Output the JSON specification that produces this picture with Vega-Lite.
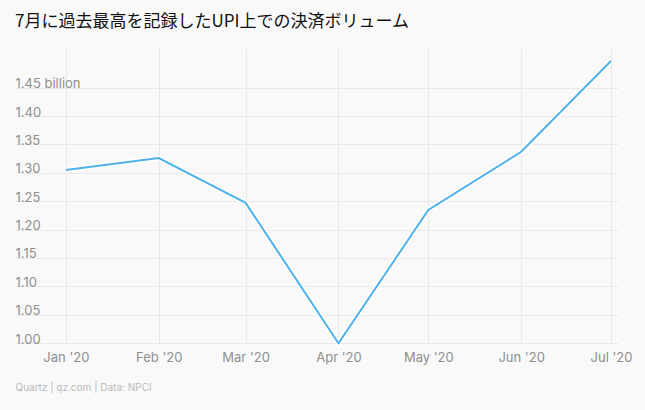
{
  "$schema": "https://vega.github.io/schema/vega-lite/v6.json",
  "autosize": "none",
  "width": 603,
  "height": 295,
  "padding": {"left": 15, "top": 48, "right": 27, "bottom": 67},
  "background": "#f9f9f9",
  "title": {
    "text": "7月に過去最高を記録したUPI上での決済ボリューム",
    "anchor": "start",
    "frame": "group",
    "font": "Noto Sans CJK JP",
    "fontSize": 17,
    "fontWeight": "normal",
    "color": "#111111",
    "offset": 17
  },
  "config": {
    "view": {"stroke": null},
    "axis": {"labelFont": "Inter", "titleFont": "Inter"}
  },
  "data": {
    "values": [
      {"month": "2020-01-01T00:00:00", "volume": 1.305},
      {"month": "2020-02-01T00:00:00", "volume": 1.326},
      {"month": "2020-03-01T00:00:00", "volume": 1.247},
      {"month": "2020-04-01T00:00:00", "volume": 0.9996},
      {"month": "2020-05-01T00:00:00", "volume": 1.2345},
      {"month": "2020-06-01T00:00:00", "volume": 1.337},
      {"month": "2020-07-01T00:00:00", "volume": 1.497}
    ]
  },
  "encoding": {
    "x": {
      "field": "month",
      "type": "temporal",
      "scale": {
        "domain": [
          {"year": 2019, "month": 12, "date": 15},
          {"year": 2020, "month": 7, "date": 3, "hours": 8}
        ]
      },
      "axis": {
        "format": "%b '%y",
        "tickCount": {"interval": "month", "step": 1},
        "ticks": false,
        "domain": false,
        "grid": true,
        "gridColor": "#e9e9e9",
        "labelColor": "#8f8f8f",
        "labelFontSize": 13,
        "labelPadding": 8,
        "labelFlush": false,
        "title": "Quartz | qz.com | Data: NPCI",
        "titleFontSize": 10,
        "titleFontWeight": "normal",
        "titleColor": "#b9b9b9",
        "titleAnchor": "start",
        "titleAlign": "left",
        "titleX": 0,
        "titleY": 44,
        "titleBaseline": "middle"
      }
    },
    "y": {
      "field": "volume",
      "type": "quantitative",
      "scale": {"domain": [1.0, 1.52], "nice": false, "zero": false},
      "axis": {
        "values": [1.0, 1.05, 1.1, 1.15, 1.2, 1.25, 1.3, 1.35, 1.4, 1.45],
        "labelExpr": "datum.value == 1.45 ? '1.45 billion' : format(datum.value, '.2f')",
        "ticks": false,
        "domain": false,
        "grid": true,
        "gridColor": "#e9e9e9",
        "labelAlign": "left",
        "labelBaseline": "alphabetic",
        "labelPadding": 0,
        "labelDy": -4,
        "labelColor": "#8f8f8f",
        "labelFontSize": 13,
        "title": null
      }
    }
  },
  "layer": [
    {"mark": {"type": "line", "color": "#ffffff", "strokeWidth": 5, "clip": false}},
    {"mark": {"type": "line", "color": "#4fb0ea", "strokeWidth": 2, "clip": false}}
  ]
}
